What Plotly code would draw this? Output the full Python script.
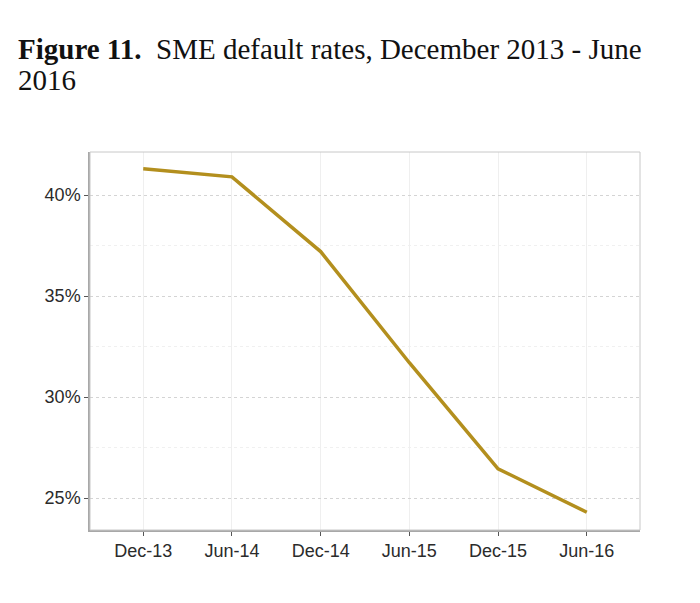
import plotly.graph_objects as go

periods = ["Dec-13", "Jun-14", "Dec-14", "Jun-15", "Dec-15", "Jun-16"]
default_rate = [41.3, 40.9, 37.2, 31.7, 26.45, 24.3]
y_ticks = [25, 30, 35, 40]
y_tick_labels = ["25%", "30%", "35%", "40%"]

W, H = 692, 595          # page body adds an 8px margin
L, R, T, B = 82, 60, 144, 73

fig = go.Figure()
fig.add_trace(go.Scatter(
    x=periods, y=default_rate, mode="lines",
    line=dict(color="#B38F1E", width=3.5),
    hoverinfo="skip", showlegend=False,
))

fig.update_layout(
    width=W, height=H,
    margin=dict(l=L, r=R, t=T, b=B),
    paper_bgcolor="white", plot_bgcolor="white",
    font=dict(family="Liberation Sans, Arial, sans-serif", size=18, color="#2b2b2b"),
    showlegend=False,
)

fig.update_xaxes(
    type="category", categoryorder="array", categoryarray=periods,
    range=[-0.6, 5.6],
    showgrid=True, gridcolor="#efefef", gridwidth=1,
    showline=True, linecolor="#a8a8a8", linewidth=1.5,
    ticks="outside", ticklen=4, tickcolor="#555555", tickwidth=1,
    tickfont=dict(size=18, color="#2b2b2b"),
    zeroline=False, fixedrange=True,
)
fig.update_yaxes(
    range=[23.42, 42.13],
    tickvals=y_ticks, ticktext=y_tick_labels,
    showgrid=True, gridcolor="#d4d4d4", gridwidth=1, griddash="dot",
    minor=dict(tickvals=[27.5, 32.5, 37.5], showgrid=True, gridcolor="#f0f0f0", gridwidth=1, ticks=""),
    showline=True, linecolor="#a8a8a8", linewidth=1.5,
    ticks="outside", ticklen=4, tickcolor="#555555", tickwidth=1,
    tickfont=dict(size=18, color="#2b2b2b"),
    zeroline=False, fixedrange=True,
)

# panel border
fig.add_shape(type="rect", xref="paper", yref="paper", x0=0, y0=0, x1=1, y1=1,
              line=dict(color="#c8c8c8", width=1), fillcolor="rgba(0,0,0,0)", layer="above")

plot_h = H - T - B
plot_w = W - L - R
title_font = dict(family="Liberation Serif, Times New Roman, serif", size=29, color="#111111")
fig.add_annotation(
    xref="paper", yref="paper",
    x=(8 - L) / plot_w, y=1 + (T - 23) / plot_h,
    xanchor="left", yanchor="top", align="left", showarrow=False,
    text="<b>Figure 11.</b>  SME default rates, December 2013 - June",
    font=title_font,
)
fig.add_annotation(
    xref="paper", yref="paper",
    x=(8 - L) / plot_w, y=1 + (T - 54) / plot_h,
    xanchor="left", yanchor="top", align="left", showarrow=False,
    text="2016",
    font=title_font,
)

fig.write_html("out.html")
